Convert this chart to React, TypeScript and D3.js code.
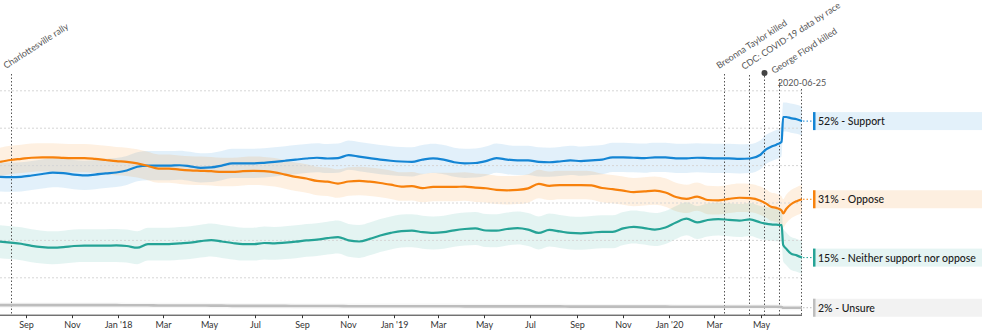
import React from "react";
import * as d3 from "d3";

const dates = [
  "2017-07-28","2017-08-11","2017-08-25","2017-09-08","2017-09-22","2017-10-06","2017-10-20","2017-11-03","2017-11-17","2017-12-01",
  "2017-12-15","2017-12-29","2018-01-12","2018-01-26","2018-02-09","2018-02-23","2018-03-09","2018-03-23","2018-04-06","2018-04-20",
  "2018-05-04","2018-05-18","2018-06-01","2018-06-15","2018-06-29","2018-07-13","2018-07-27","2018-08-10","2018-08-24","2018-09-07",
  "2018-09-21","2018-10-05","2018-10-19","2018-11-02","2018-11-16","2018-11-30","2018-12-14","2018-12-28","2019-01-11","2019-01-25",
  "2019-02-08","2019-02-22","2019-03-08","2019-03-22","2019-04-05","2019-04-19","2019-05-03","2019-05-17","2019-05-31","2019-06-14",
  "2019-06-28","2019-07-12","2019-07-26","2019-08-09","2019-08-23","2019-09-06","2019-09-20","2019-10-04","2019-10-18","2019-11-01",
  "2019-11-15","2019-11-29","2019-12-13","2019-12-27","2020-01-10","2020-01-24","2020-02-07","2020-02-21","2020-03-06","2020-03-20",
  "2020-04-03","2020-04-17","2020-05-01",
  "2020-05-08","2020-05-15","2020-05-22","2020-05-29","2020-05-31","2020-06-04","2020-06-10","2020-06-18","2020-06-25"
];

const support = [
  37.0, 36.9, 37.0, 37.35, 37.75, 38.1, 38.0, 37.6, 37.4, 37.6,
  37.9, 38.15, 38.7, 39.7, 40.0, 40.0, 40.0, 40.1, 39.8, 39.4,
  39.5, 40.0, 40.6, 40.6, 40.6, 40.75, 41.0, 41.3, 41.6, 41.9,
  42.1, 41.9, 42.0, 42.8, 42.4, 42.0, 41.6, 41.3, 41.1, 41.0,
  41.6, 41.95, 41.6, 40.9, 40.6, 40.7, 41.2, 42.0, 41.6, 41.4,
  41.4, 41.0, 40.9, 41.1, 41.4, 41.2, 41.4, 41.6, 42.2, 42.2,
  42.1, 42.0, 42.2, 42.2, 41.95, 41.95, 42.1, 42.0, 41.95, 41.95,
  41.8, 41.9, 42.9,
  44.3, 45.05, 45.6, 46.4, 53.0, 53.0, 52.7, 52.4, 51.9
];

const oppose = [
  41.0, 41.5, 41.8, 42.1, 42.2, 42.2, 42.05, 42.0, 42.0, 41.8,
  41.5, 41.2, 41.0, 40.6, 39.9, 39.2, 39.2, 38.9, 38.7, 38.6,
  38.5, 38.3, 38.3, 38.5, 38.6, 38.5, 38.2, 37.6, 37.0, 36.55,
  35.9, 35.7, 35.2, 35.75, 35.9, 35.7, 35.35, 34.9, 34.4, 34.5,
  34.0, 34.3, 34.3, 34.3, 34.4, 34.1, 33.95, 33.5, 33.4, 33.5,
  33.9, 35.1, 34.6, 34.8, 34.8, 34.8, 34.7, 34.0, 33.7, 33.3,
  32.9, 33.1, 33.3, 32.8, 31.6, 31.1, 31.7, 30.8, 30.7, 31.1,
  31.4, 31.3, 30.6,
  29.9, 29.0, 28.7, 28.0, 27.2, 28.4, 29.6, 30.5, 31.0
];

const neither = [
  19.65, 19.4, 19.1, 18.55, 18.2, 18.05, 18.2, 18.5, 18.6, 18.6,
  18.6, 18.65, 18.5, 18.05, 19.0, 19.0, 19.0, 19.2, 19.4, 19.8,
  20.1, 19.7, 19.3, 19.0, 19.0, 19.3, 19.2, 19.4, 19.65, 20.0,
  20.2, 20.6, 20.9, 20.0, 19.7, 20.4, 21.3, 22.0, 22.5, 22.6,
  22.2, 22.0, 22.2, 22.7, 23.05, 23.2, 22.65, 22.6, 23.05, 23.3,
  22.9, 22.0, 22.8, 22.4, 22.0, 21.9, 22.1, 22.3, 22.3, 23.2,
  23.6, 23.3, 22.9, 23.45, 24.8, 25.8, 24.8, 25.45, 25.7, 25.5,
  25.3, 25.6, 24.8,
  24.5, 24.3, 24.2, 24.1, 18.8, 17.8, 16.55, 16.0, 15.4
];

const unsure = [
  2.7, 2.7, 2.7, 2.7, 2.7, 2.7, 2.7, 2.7, 2.7, 2.7,
  2.7, 2.7, 2.65, 2.65, 2.65, 2.6, 2.6, 2.6, 2.6, 2.6,
  2.55, 2.55, 2.5, 2.5, 2.5, 2.5, 2.5, 2.5, 2.45, 2.45,
  2.45, 2.45, 2.45, 2.4, 2.4, 2.4, 2.4, 2.4, 2.4, 2.4,
  2.4, 2.4, 2.4, 2.4, 2.35, 2.35, 2.35, 2.35, 2.35, 2.35,
  2.35, 2.35, 2.35, 2.35, 2.3, 2.3, 2.3, 2.3, 2.3, 2.3,
  2.3, 2.3, 2.3, 2.3, 2.25, 2.25, 2.25, 2.25, 2.25, 2.25,
  2.25, 2.25, 2.25,
  2.25, 2.25, 2.25, 2.2, 2.0, 2.0, 2.0, 2.0, 2.0
];

const seriesNames = ["Support", "Oppose", "Neither support nor oppose", "Unsure"];
const seriesColors = ["#1485d4", "#f7810c", "#25a396", "#bdbdbd"];
const bandColors = ["#1485d4", "#f7810c", "#25a396", "#bdbdbd"];
const labelBgColors = ["#e3f1fa", "#fdefe0", "#e5f4f3", "#f2f2f2"];
const marginsOfError = [3.9, 3.8, 4.4, 0.7];

const gridValues = [10, 20, 30, 40, 50, 60];

const eventDates = ["2017-08-12", "2020-03-13", "2020-04-16", "2020-05-05", "2020-05-25"];
const eventLabels = ["Charlottesville rally", "Breonna Taylor killed", "CDC: COVID-19 data by race", "", "George Floyd killed"];
const eventTops = [74, 74, 75, 76, 79];

const startDate = "2017-07-28";
const endDate = "2020-06-25";

const FONT = "Lato, 'Noto Sans', sans-serif";

export default function App() {
  const parse = d3.timeParse("%Y-%m-%d");
  const ds = dates.map((d) => parse(d) as Date);
  const x = d3.scaleTime().domain([parse(startDate) as Date, parse(endDate) as Date]).range([0, 802]);
  const y = d3.scaleLinear().domain([0, 60]).range([315.2, 90.8]);
  const xEnd = x(parse(endDate) as Date);

  const allValues = [support, oppose, neither, unsure];
  const series = allValues.map((vals, i) => ({
    name: seriesNames[i],
    values: vals,
    color: seriesColors[i],
    band: bandColors[i],
    bg: labelBgColors[i],
    moe: marginsOfError[i],
  }));

  const line = (vals: number[]) =>
    d3.line<number>().x((_, i) => x(ds[i])).y((v) => y(v)).curve(d3.curveMonotoneX)(vals) || "";
  const area = (vals: number[], m: number) =>
    d3
      .area<number>()
      .x((_, i) => x(ds[i]))
      .y0((v) => y(Math.max(0, v - m)))
      .y1((v) => y(v + m))
      .curve(d3.curveMonotoneX)(vals) || "";

  const ticks = x.ticks(d3.timeMonth.every(2) as d3.TimeInterval);
  const fmt = (d: Date) =>
    d.getMonth() === 0 ? `Jan '${d3.timeFormat("%y")(d)}` : d3.timeFormat("%b")(d);

  const axisY = y(0);

  return (
    <svg
      width={986}
      height={335}
      style={{ position: "absolute", left: 0, top: 0, fontFamily: FONT }}
    >
      <rect x={0} y={0} width={986} height={335} fill="#fff" />
      {series.map((s, i) => (
        <path key={"b" + i} d={area(s.values, s.moe)} fill={s.band} fillOpacity={0.12} stroke="none" />
      ))}
      {gridValues.map((g) => (
        <line
          key={"g" + g}
          x1={0}
          x2={xEnd}
          y1={y(g)}
          y2={y(g)}
          stroke="#d6d6d6"
          strokeWidth={1}
          strokeDasharray="2,2"
        />
      ))}
      {eventDates.map((d, i) => {
        const ex = Math.round(x(parse(d) as Date)) + 0.5;
        const top = eventTops[i];
        return (
          <g key={"e" + i}>
            <line x1={ex} x2={ex} y1={top} y2={axisY} stroke="#555" strokeWidth={1} strokeDasharray="1.5,2" />
            {eventLabels[i] ? (
              <text
                transform={`translate(${ex - 5.5},${top - 5}) rotate(-33)`}
                fontSize={9}
                fill="#555"
              >
                {eventLabels[i]}
              </text>
            ) : (
              <circle cx={ex} cy={top - 3} r={3} fill="#444" />
            )}
          </g>
        );
      })}
      <line
        x1={Math.round(xEnd) - 0.5}
        x2={Math.round(xEnd) - 0.5}
        y1={89}
        y2={axisY}
        stroke="#555"
        strokeWidth={1}
        strokeDasharray="1.5,2"
      />
      <text x={xEnd} y={86} fontSize={9} fill="#555" textAnchor="middle">
        {endDate}
      </text>
      {series.map((s, i) => (
        <path
          key={"l" + i}
          d={line(s.values)}
          fill="none"
          stroke={s.color}
          strokeWidth={i === 3 ? 2.6 : 2.2}
          strokeLinejoin="round"
        />
      ))}
      <line x1={0} x2={xEnd} y1={axisY} y2={axisY} stroke="#333" strokeWidth={1} />
      {ticks.map((t, i) => (
        <g key={"t" + i} transform={`translate(${Math.round(x(t)) + 0.5},${axisY})`}>
          <line y1={0} y2={3} stroke="#333" />
          <text y={12.5} fontSize={9} fill="#333" textAnchor="middle">
            {fmt(t)}
          </text>
        </g>
      ))}
      {series.map((s, i) => {
        const last = s.values[s.values.length - 1];
        const ly = y(last);
        return (
          <g key={"lab" + i}>
            <line x1={xEnd + 1} x2={812} y1={ly} y2={ly} stroke={s.color} strokeWidth={1} strokeDasharray="1.5,2" />
            <rect x={813} y={ly - 9} width={169} height={18} fill={s.bg} />
            <rect x={813} y={ly - 9} width={2.5} height={18} fill={s.color} />
            <text x={818} y={ly + 4} fontSize={10.5} fill="#1a1a1a" fontWeight={500}>
              {`${Math.round(last)}% - ${s.name}`}
            </text>
          </g>
        );
      })}
    </svg>
  );
}
